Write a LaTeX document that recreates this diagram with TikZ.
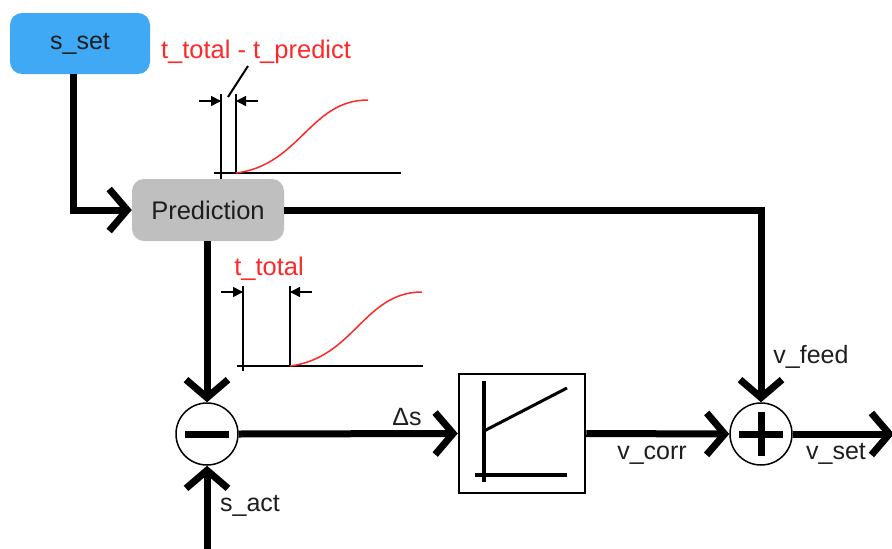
\documentclass[tikz,border=0pt]{standalone}
\usepackage{fontspec}
\setmainfont{Liberation Sans}
\usetikzlibrary{arrows.meta}
\definecolor{setblue}{RGB}{63,169,245}
\definecolor{predgray}{RGB}{191,191,191}
\definecolor{curvered}{RGB}{255,40,40}
\definecolor{txt}{RGB}{30,30,30}
\begin{document}
\begin{tikzpicture}[x=1pt,y=-1pt,
  lbl/.style={font=\fontsize{25}{29}\selectfont, text=txt, inner sep=0pt},
  redlbl/.style={font=\fontsize{25.5}{29}\selectfont, text=curvered, inner sep=0pt},
  ssetbox/.style={fill=setblue, rounded corners=12pt, minimum width=140pt, minimum height=61pt, inner sep=0pt, font=\fontsize{25}{29}\selectfont, text=txt},
  predbox/.style={fill=predgray, rounded corners=12pt, minimum width=152pt, minimum height=62pt, inner sep=0pt, font=\fontsize{25.5}{29}\selectfont, text=txt},
  ctrlbox/.style={draw, line width=2.5pt, minimum width=126pt, minimum height=119pt, inner sep=0pt},
  sumcirc/.style={circle, draw, line width=1.5pt, minimum size=62pt, inner sep=0pt},
  flow/.style={line width=7pt, -{Straight Barb[length=18pt,width=42pt]}},
  thin/.style={line width=1.5pt},
  dimarrow/.style={line width=1.5pt, -{Triangle[length=10pt,width=10pt]}},
  sigmoid/.style={line width=1.5pt, draw=curvered},
  sign/.style={line width=7pt},
  ctrlaxis/.style={line width=4.5pt},
]
\clip (0,0) rectangle (892,549);
% main nodes
\node[ssetbox] (sset) at (80,43.5) {s\_set};
\node[predbox] (pred) at (208,210) {Prediction};
\node[sumcirc] (minus) at (207,434) {};
\node[sumcirc] (sum) at (761,434) {};
\node[ctrlbox] (ctrl) at (522,433.5) {};
\coordinate (sactin) at (207,556);
\coordinate (vsetout) at (894,434);
% signs
\draw[sign] ([xshift=-22pt]minus.center) -- ([xshift=22pt]minus.center);
\draw[sign] ([xshift=-22pt]sum.center) -- ([xshift=22pt]sum.center);
\draw[sign] ([yshift=-22pt]sum.center) -- ([yshift=22pt]sum.center);
% controller characteristic
\draw[ctrlaxis] (484,381) -- (484,482);
\draw[ctrlaxis] (475,475) -- (567,475);
\draw[line width=3pt] (484,431) -- (567,388);
% connectors
\draw[flow] ([xshift=-7pt]sset.south) |- (pred.west);
\draw[flow] (pred.east) -| (sum.north);
\draw[flow] (pred.south -| minus.north) -- (minus.north);
\draw[flow] (minus.east) -- (ctrl.west);
\draw[flow] (ctrl.east) -- (sum.west);
\draw[flow] (sum.east) -- (vsetout);
\draw[flow] (sactin) -- (minus.south);
% labels
\node[lbl, anchor=base] (lds) at (407,425) {Δs};
\node[lbl, anchor=base] (lsact) at (250,511) {s\_act};
\node[lbl, anchor=base] (lvcorr) at (652,459) {v\_corr};
\node[lbl, anchor=base] (lvset) at (836,459) {v\_set};
\node[lbl, anchor=base] (lvfeed) at (811,363) {v\_feed};
% mini graph 1
\draw[thin] (214,173) -- (401,173);
\draw[thin] (221,94) -- (221,179);
\draw[thin] (236,94) -- (236,173);
\draw[dimarrow] (199,101) -- (221,101);
\draw[dimarrow] (258,101) -- (236,101);
\draw[line width=2pt] (248,66) -- (228,97);
\draw[sigmoid] (236,173) .. controls (300,165) and (310,100) .. (368,100);
\node[redlbl, anchor=base] (lt1) at (256,58) {t\_total - t\_predict};
% mini graph 2
\draw[thin] (237,366) -- (423,366);
\draw[thin] (243,286) -- (243,371);
\draw[thin] (290,286) -- (290,366);
\draw[dimarrow] (221,292) -- (243,292);
\draw[dimarrow] (312,292) -- (290,292);
\draw[sigmoid] (290,366) .. controls (354,358) and (364,292) .. (422,292);
\node[redlbl, anchor=base] (lt2) at (269,275) {t\_total};
\end{tikzpicture}
\end{document}
